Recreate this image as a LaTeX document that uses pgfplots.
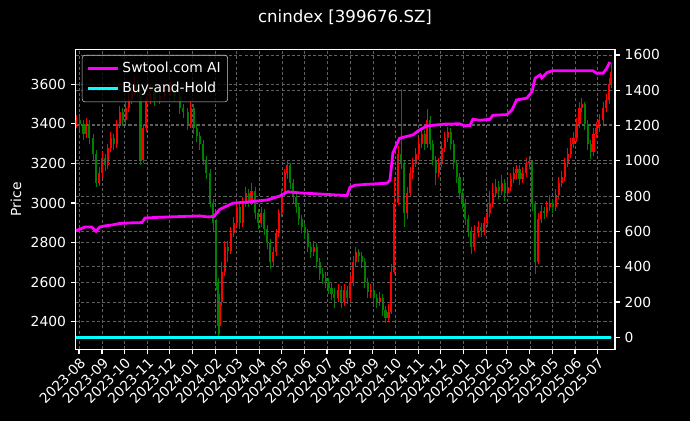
\documentclass[border=0pt]{standalone}
\usepackage{fontspec}
\setmainfont{DejaVu Sans}
\usepackage{pgfplots}
\usepackage{pgfplotstable}
\pgfplotsset{compat=1.18}

\definecolor{cred}{RGB}{255,0,0}
\definecolor{cgreen}{RGB}{0,128,0}
\definecolor{cmag}{RGB}{255,0,255}
\definecolor{ccyan}{RGB}{0,255,255}
\definecolor{gridc}{RGB}{95,95,95}

% candles, x = days since 2023-08-01
\pgfplotstableread{
d o h l c
-4 3400 3445 3380 3420
1 3420 3440 3370 3400
6 3400 3420 3320 3350
10 3350 3430 3330 3400
14 3400 3420 3300 3330
19 3330 3350 3220 3250
23 3250 3270 3080 3100
27 3100 3180 3085 3150
31 3150 3260 3130 3230
35 3230 3250 3160 3190
39 3190 3300 3170 3280
43 3280 3360 3260 3330
47 3330 3350 3270 3300
51 3300 3420 3280 3400
55 3400 3490 3380 3460
59 3460 3480 3390 3420
63 3420 3510 3400 3480
67 3480 3550 3460 3520
71 3520 3590 3500 3560
75 3560 3640 3540 3600
79 3600 3620 3530 3560
83 3560 3570 3190 3220
87 3220 3400 3200 3380
91 3380 3540 3360 3520
96 3520 3590 3500 3560
102 3560 3580 3490 3520
109 3520 3570 3500 3540
116 3540 3590 3520 3560
123 3560 3610 3540 3580
129 3580 3600 3510 3540
136 3540 3560 3450 3480
141 3480 3500 3430 3460
147 3460 3480 3370 3400
151 3400 3510 3380 3480
155 3480 3500 3350 3380
159 3380 3400 3310 3340
163 3340 3360 3270 3300
168 3300 3320 3190 3220
172 3220 3240 3120 3150
177 3150 3170 2980 3000
181 3000 3020 2860 2900
185 2900 2920 2560 2600
188 2600 2620 2330 2380
190 2380 2540 2340 2500
193 2500 2700 2480 2650
197 2650 2810 2630 2780
201 2780 2810 2700 2760
205 2760 2880 2740 2850
209 2850 2930 2830 2900
213 2900 3010 2880 2980
217 2980 3000 2870 2900
221 2900 3030 2880 3000
225 3000 3080 2980 3050
229 3050 3070 2980 3010
233 3010 3100 2990 3060
238 3060 3080 2920 2950
242 2950 2970 2870 2900
246 2900 2980 2880 2950
250 2950 2970 2840 2870
254 2870 2890 2770 2800
258 2800 2820 2665 2700
262 2700 2780 2680 2750
266 2750 2870 2730 2850
270 2850 2970 2830 2950
274 2950 3070 2930 3050
278 3050 3170 3030 3150
281 3150 3215 3120 3190
285 3190 3200 3070 3100
289 3100 3120 3000 3030
293 3030 3050 2950 2980
297 2980 3000 2890 2920
301 2920 2940 2850 2880
305 2880 2900 2820 2850
309 2850 2870 2750 2780
313 2780 2800 2720 2750
317 2750 2810 2730 2780
321 2780 2800 2670 2700
325 2700 2720 2610 2640
329 2640 2670 2590 2620
333 2620 2650 2570 2600
337 2600 2620 2540 2570
341 2570 2600 2510 2540
345 2540 2570 2470 2520
350 2520 2590 2500 2560
354 2560 2580 2470 2500
358 2500 2590 2480 2560
362 2560 2580 2490 2520
366 2520 2630 2500 2600
370 2600 2730 2580 2700
374 2700 2780 2680 2750
378 2750 2770 2700 2730
382 2730 2750 2670 2700
386 2700 2720 2570 2600
390 2600 2620 2520 2550
394 2550 2590 2520 2560
398 2560 2580 2480 2520
402 2520 2540 2470 2500
406 2500 2550 2480 2520
410 2520 2540 2430 2460
414 2460 2480 2395 2420
418 2420 2490 2400 2450
422 2450 2690 2440 2650
426 2650 3130 2640 3000
431 3000 3290 2990 3250
435 3250 3575 3170 3200
439 3200 3220 2880 2950
443 2950 3080 2920 3050
447 3050 3180 3030 3150
451 3150 3230 3120 3200
455 3200 3280 3180 3250
459 3250 3330 3220 3300
463 3300 3380 3280 3350
467 3350 3370 3270 3300
470 3300 3475 3280 3420
474 3420 3440 3270 3300
478 3300 3320 3190 3220
482 3220 3240 3090 3150
486 3150 3230 3130 3200
490 3200 3310 3180 3280
494 3280 3360 3260 3330
498 3330 3385 3310 3360
502 3360 3380 3270 3300
506 3300 3320 3170 3200
510 3200 3220 3100 3130
514 3130 3150 3020 3050
518 3050 3070 2970 3000
522 3000 3020 2890 2920
526 2920 2940 2830 2860
530 2860 2880 2740 2780
534 2780 2890 2760 2850
539 2850 2910 2830 2880
543 2880 2900 2830 2860
547 2860 2930 2840 2900
551 2900 3000 2880 2950
555 2950 3060 2930 3000
559 3000 3100 2980 3050
563 3050 3120 3030 3080
567 3080 3110 3020 3060
571 3060 3140 3040 3100
575 3100 3120 3010 3050
579 3050 3120 3030 3080
583 3080 3150 3060 3120
587 3120 3180 3100 3150
591 3150 3190 3120 3170
595 3170 3190 3090 3120
599 3120 3180 3100 3150
604 3150 3230 3130 3200
608 3200 3237 3170 3210
612 3210 3220 2960 3000
616 3000 3010 2640 2700
620 2700 2950 2690 2920
624 2920 2990 2900 2960
628 2960 2980 2920 2950
632 2950 3010 2930 2980
636 2980 3040 2960 3000
640 3000 3020 2950 2980
644 2980 3070 2960 3040
648 3040 3130 3020 3100
652 3100 3160 3080 3130
656 3130 3230 3110 3200
660 3200 3280 3180 3250
664 3250 3330 3230 3300
668 3300 3360 3280 3330
672 3330 3430 3310 3400
676 3400 3510 3380 3480
679 3480 3530 3460 3500
683 3500 3510 3370 3400
687 3400 3420 3270 3300
691 3300 3320 3225 3260
695 3260 3380 3240 3350
699 3350 3410 3330 3380
703 3380 3450 3360 3420
708 3420 3510 3400 3480
712 3480 3550 3460 3520
716 3520 3630 3500 3600
719 3600 3707 3580 3660
}\candles

% strategy return
\pgfplotstableread{
d r
-4 605
1 612
8 625
17 625
23 600
28 625
36 632
44 636
55 645
69 648
85 650
89 676
109 680
163 688
174 682
182 685
190 725
208 760
231 768
254 778
271 800
282 825
298 818
325 812
362 803
366 850
373 862
393 868
416 873
420 890
424 1045
433 1128
451 1147
460 1175
470 1198
494 1208
514 1210
521 1198
528 1200
532 1236
541 1230
555 1235
559 1258
578 1262
585 1289
591 1345
605 1355
612 1393
616 1468
623 1487
625 1470
632 1500
640 1511
694 1511
699 1497
708 1497
713 1525
717 1560
}\strategy

\pgfplotsset{
  mpl/.style={
    at={(0,0)}, anchor=south west, scale only axis,
    width=388.3bp, height=216.1bp,
    xmin=-4.5, xmax=724,
    axis line style={white, line width=0.8bp},
    tick style={white, line width=0.8bp},
    major tick length=3.5bp, tick align=outside,
    ticklabel style={font=\fontsize{10}{12}\selectfont, text=white},
    label style={font=\fontsize{10}{12}\selectfont, text=white},
    /pgf/number format/assume math mode=true,
    /pgf/number format/1000 sep={},
    grid style={gridc, dash pattern=on 2.2bp off 1.6bp, line width=0.5bp},
  },
  candle/.style 2 args={draw=none, mark=none, forget plot,
    error bars/.cd, y dir=both, y explicit, error mark=none,
    error bar style={draw=#1, line width=#2}},
}

\begin{document}
\begin{tikzpicture}
\fill[black] (-54.5bp,-51.5bp) rectangle (442.3bp,251.6bp);
\node[text=white, font=\fontsize{12}{14}\selectfont] at (193.9bp,239.4bp) {cnindex [399676.SZ]};
\begin{axis}[mpl,
  ymin=2260, ymax=3777,
  xtick pos=bottom, ytick pos=left,
  xmajorgrids, ymajorgrids,
  ytick={2400,2600,2800,3000,3200,3400,3600},
  xtick={0,31,61,92,122,153,184,213,244,274,305,335,366,397,427,458,488,519,550,578,609,639,670,700},
  xticklabels={2023-08,2023-09,2023-10,2023-11,2023-12,2024-01,2024-02,2024-03,2024-04,2024-05,2024-06,2024-07,2024-08,2024-09,2024-10,2024-11,2024-12,2025-01,2025-02,2025-03,2025-04,2025-05,2025-06,2025-07},
  x tick label style={rotate=45, anchor=north east, inner sep=1bp},
  ylabel={Price},
]
% up candles (red): wicks, then bodies
\addplot[restrict expr to domain={\thisrow{c}-\thisrow{o}}{0:5000}, candle={cred}{0.6bp}]
  table[x=d, y expr={(\thisrow{h}+\thisrow{l})/2}, y error expr={(\thisrow{h}-\thisrow{l})/2}] {\candles};
\addplot[restrict expr to domain={\thisrow{c}-\thisrow{o}}{0:5000}, candle={cred}{1.5bp}]
  table[x=d, y expr={(\thisrow{o}+\thisrow{c})/2}, y error expr={abs(\thisrow{c}-\thisrow{o})/2}] {\candles};
% down candles (green)
\addplot[restrict expr to domain={\thisrow{c}-\thisrow{o}}{-5000:-0.5}, candle={cgreen}{0.6bp}]
  table[x=d, y expr={(\thisrow{h}+\thisrow{l})/2}, y error expr={(\thisrow{h}-\thisrow{l})/2}] {\candles};
\addplot[restrict expr to domain={\thisrow{c}-\thisrow{o}}{-5000:-0.5}, candle={cgreen}{1.5bp}]
  table[x=d, y expr={(\thisrow{o}+\thisrow{c})/2}, y error expr={abs(\thisrow{c}-\thisrow{o})/2}] {\candles};
\end{axis}
\begin{axis}[mpl,
  ymin=-69, ymax=1632,
  axis x line=none, axis y line*=right,
  ymajorgrids,
  ytick={0,200,400,600,800,1000,1200,1400,1600},
  ylabel={Return}, ylabel near ticks,
  legend style={at={(0,1)}, anchor=north west, xshift=4.5bp, yshift=-4.1bp,
    fill=black, fill opacity=0.8, text opacity=1, draw=white!80!black,
    rounded corners=2bp, text=white, font=\fontsize{10}{12}\selectfont,
    inner xsep=3bp, inner ysep=3bp, row sep=1.5bp},
  legend cell align=left,
  legend image code/.code={\draw[#1] (0bp,0bp) -- (22bp,0bp);},
]
\addplot[cmag, line width=2bp] table[x=d, y=r] {\strategy};
\addlegendentry{Swtool.com AI}
\addplot[ccyan, line width=2bp] coordinates {(-4.5,0) (719,0)};
\addlegendentry{Buy-and-Hold}
\end{axis}
\end{tikzpicture}
\end{document}
